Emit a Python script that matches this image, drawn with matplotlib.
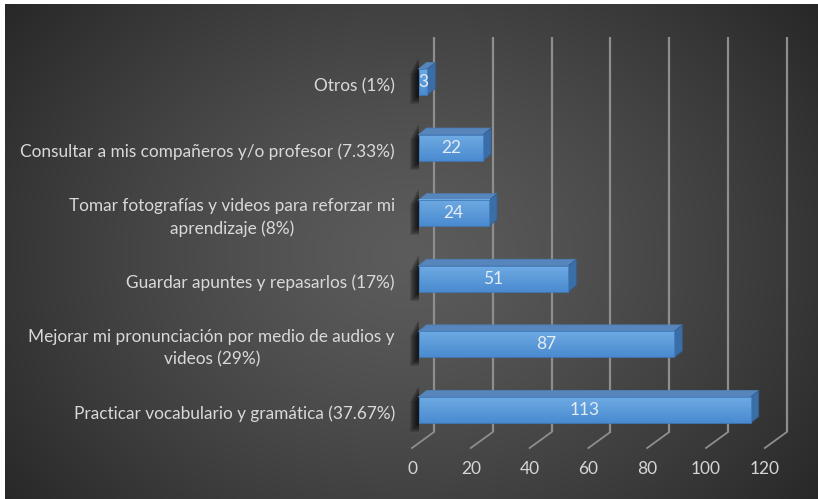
import numpy as np
import matplotlib
matplotlib.use("Agg")
import matplotlib.pyplot as plt
from matplotlib.patches import Polygon, Rectangle

# data
categories = [
    "Practicar vocabulario y gramática (37.67%)",
    "Mejorar mi pronunciación por medio de audios y\nvideos (29%)",
    "Guardar apuntes y repasarlos (17%)",
    "Tomar fotografías y videos para reforzar mi\naprendizaje (8%)",
    "Consultar a mis compañeros y/o profesor (7.33%)",
    "Otros (1%)",
]
values = [113, 87, 51, 24, 22, 3]
xticks = [0, 20, 40, 60, 80, 100, 120]

plt.rcParams['font.family'] = ['Lato', 'DejaVu Sans']

W, H = 818, 499
fig = plt.figure(figsize=(W / 100, H / 100), dpi=100)
fig.patch.set_facecolor('white')

# background: radial gradient
bg = fig.add_axes([5 / W, 0, (W - 5) / W, (H - 4) / H])
bg.set_axis_off()
yy, xx = np.mgrid[0:495, 0:813]
cx, cy = 405, 250
r = np.sqrt(((xx - cx) / 520.0) ** 2 + ((yy - cy) / 420.0) ** 2)
r = np.clip(r, 0, 1)
lum = 0.36 - (0.36 - 0.15) * r ** 1.3
img = np.dstack([lum, lum, lum])
bg.imshow(img, aspect='auto', extent=[0, 1, 0, 1], interpolation='bilinear')
bg.set_xlim(0, 1)
bg.set_ylim(0, 1)

# main axes, pixel mapping: x=0 -> 434px, 2.94 px/unit ; y=0 -> 410px, 65.6 px/unit
px_x0, sx = 434.0, 2.94
px_y0, sy = 410.0, 65.6
ax_l, ax_r, ax_t, ax_b = 400, 800, 20, 490
ax = fig.add_axes([ax_l / W, (H - ax_b) / H, (ax_r - ax_l) / W, (ax_b - ax_t) / H])
ax.set_xlim((ax_l - px_x0) / sx, (ax_r - px_x0) / sx)
ax.set_ylim((px_y0 - ax_b) / sy, (px_y0 - ax_t) / sy)
ax.set_axis_off()

# 3d geometry in data units
wall_bottom = -22 / sy
wall_top = (px_y0 - 37) / sy
floor_dx, floor_dy = -22 / sx, -16 / sy
bar_front_dx = -15.5 / sx
bar_depth_dx, bar_depth_dy = 8 / sx, 6.5 / sy
bar_h = 26 / sy
label_dy = -4 / sy

grid_col = '#8e8e8e'
for t in xticks:
    ax.plot([t, t], [wall_bottom, wall_top], color=grid_col, lw=1.6, solid_capstyle='butt', zorder=1)
    ax.plot([t, t + floor_dx], [wall_bottom, wall_bottom + floor_dy], color=grid_col, lw=1.3, zorder=1)
    ax.text(t + floor_dx, (px_y0 - 469) / sy, str(t), color='#d6d6d6', fontsize=12.5,
            ha='center', va='center', clip_on=False)

front_top = '#6eaae2'
front_bot = '#4a8bd0'
top_col = '#5786bd'
side_col = '#3b6ea6'

for i, (cat, v) in enumerate(zip(categories, values)):
    x0 = bar_front_dx
    x1 = v + bar_front_dx
    y0 = i - bar_h / 2
    y1 = i + bar_h / 2

    # soft shadow left of bar
    for k in range(8):
        w = (2.0 + k * 1.0) / sx
        ax.add_patch(Rectangle((x0 - w, y0 - (2 + k) / sy), w, bar_h + (12 - k) / sy,
                               facecolor='black', alpha=0.13, lw=0, zorder=2))

    # top face
    ax.add_patch(Polygon([[x0, y1], [x1, y1], [x1 + bar_depth_dx, y1 + bar_depth_dy],
                          [x0 + bar_depth_dx, y1 + bar_depth_dy]], closed=True,
                         facecolor=top_col, edgecolor='#4f7fb5', lw=0.6, zorder=3))
    # side face
    ax.add_patch(Polygon([[x1, y0], [x1 + bar_depth_dx, y0 + bar_depth_dy],
                          [x1 + bar_depth_dx, y1 + bar_depth_dy], [x1, y1]], closed=True,
                         facecolor=side_col, edgecolor='#335f90', lw=0.6, zorder=3))
    # front face with vertical gradient
    grad = np.linspace(0, 1, 50).reshape(-1, 1)
    c1 = np.array(matplotlib.colors.to_rgb(front_bot))
    c2 = np.array(matplotlib.colors.to_rgb(front_top))
    gimg = c1[None, None, :] * (1 - grad[:, :, None]) + c2[None, None, :] * grad[:, :, None]
    ax.imshow(gimg, extent=[x0, x1, y0, y1], origin='lower', aspect='auto',
              interpolation='bilinear', zorder=4)
    ax.add_patch(Rectangle((x0, y0), x1 - x0, y1 - y0, facecolor='none',
                           edgecolor='#3f7bbd', lw=0.6, zorder=5))

    ax.text((x0 + x1) / 2, i, str(v), color='#e4ecf4', fontsize=12.5,
            ha='center', va='center', zorder=6)

    ax.text((395 - px_x0) / sx, i + label_dy, cat, color='#d9d9d9', fontsize=12.4,
            ha='right', va='center', multialignment='center', linespacing=1.45,
            clip_on=False, zorder=6)

# restore limits after imshow
ax.set_xlim((ax_l - px_x0) / sx, (ax_r - px_x0) / sx)
ax.set_ylim((px_y0 - ax_b) / sy, (px_y0 - ax_t) / sy)

fig.savefig('out.png', dpi=100, facecolor=fig.get_facecolor())
